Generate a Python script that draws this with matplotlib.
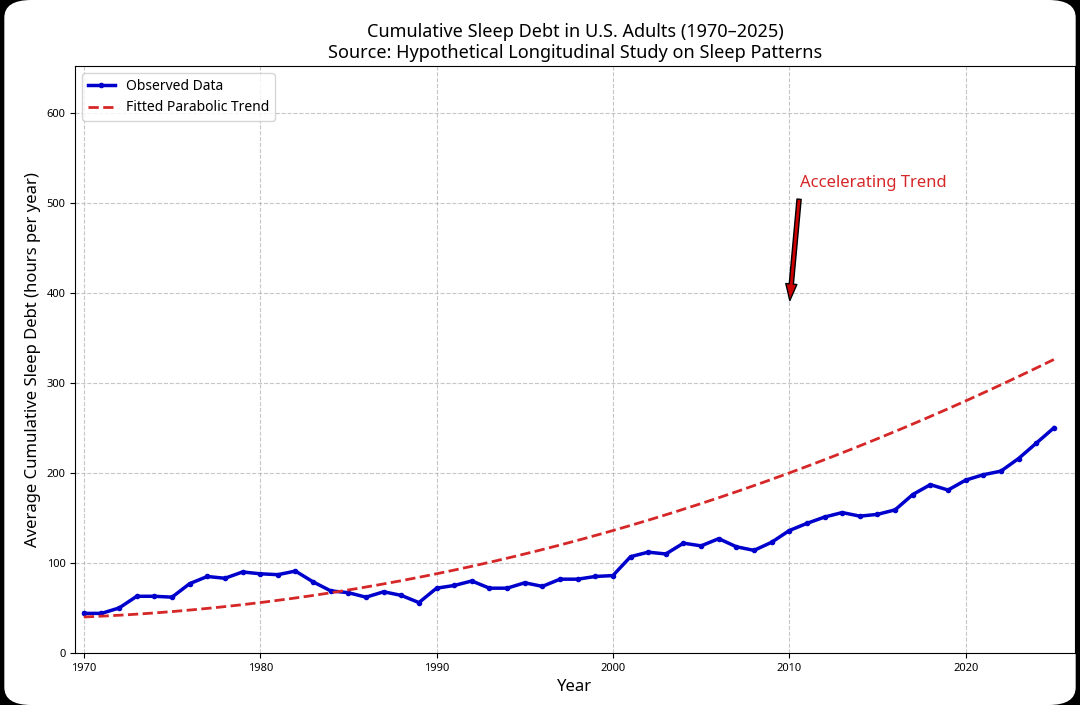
import numpy as np
import matplotlib
matplotlib.use("Agg")
import matplotlib.pyplot as plt
from matplotlib.patches import FancyBboxPatch

years = np.arange(1970, 2026)
observed = [44, 44, 50, 63, 63, 62, 77, 85, 83, 90,
            88, 87, 91, 79, 69, 67, 62, 68, 64, 56,
            72, 75, 80, 72, 72, 78, 74, 82, 82, 85,
            86, 107, 112, 110, 122, 119, 127, 118, 114, 123,
            136, 144, 151, 156, 152, 154, 159, 176, 187, 181,
            192, 198, 202, 216, 233, 250]
# parabola coefficients (t = year - 1970)
trend_coef = [0.08, 0.8, 40.0]

plt.rcParams["font.family"] = ["Noto Sans", "DejaVu Sans"]

fig = plt.figure(figsize=(10.8, 7.05), dpi=100, facecolor="black")
fig.patches.append(FancyBboxPatch((0.004, 0.0), 0.992, 1.0, boxstyle="round,pad=0,rounding_size=0.025",
                                  transform=fig.transFigure, facecolor="white", edgecolor="none", zorder=-10))
ax = fig.add_axes([75 / 1080, 1 - 653 / 705, 1000 / 1080, 587 / 705])

t = np.linspace(0, 55, 300)
ax.plot(years, observed, color="#0000cc", linewidth=2.5, marker="o", markersize=3, label="Observed Data")
ax.plot(1970 + t, np.polyval(trend_coef, t), color="#d62728", linestyle="--", linewidth=2,
        label="Fitted Parabolic Trend")

ax.annotate("Accelerating Trend", xy=(2010, 385), xytext=(2010.6, 518), color="#d62728", fontsize=12,
            arrowprops=dict(facecolor="#cc0000", edgecolor="black", shrink=0.05, width=3, headwidth=8))

ax.set_xlim(1969.5, 2026.2)
ax.set_ylim(0, 652)
ax.set_xlabel("Year", fontsize=12)
ax.set_ylabel("Average Cumulative Sleep Debt (hours per year)", fontsize=12)
ax.set_title("Cumulative Sleep Debt in U.S. Adults (1970–2025)\nSource: Hypothetical Longitudinal Study on Sleep Patterns",
             fontsize=13)
ax.tick_params(labelsize=8)
ax.grid(True, linestyle="--", alpha=0.7)
ax.legend(loc="upper left", fontsize=10)

fig.savefig("out.png", dpi=100, facecolor=fig.get_facecolor())
